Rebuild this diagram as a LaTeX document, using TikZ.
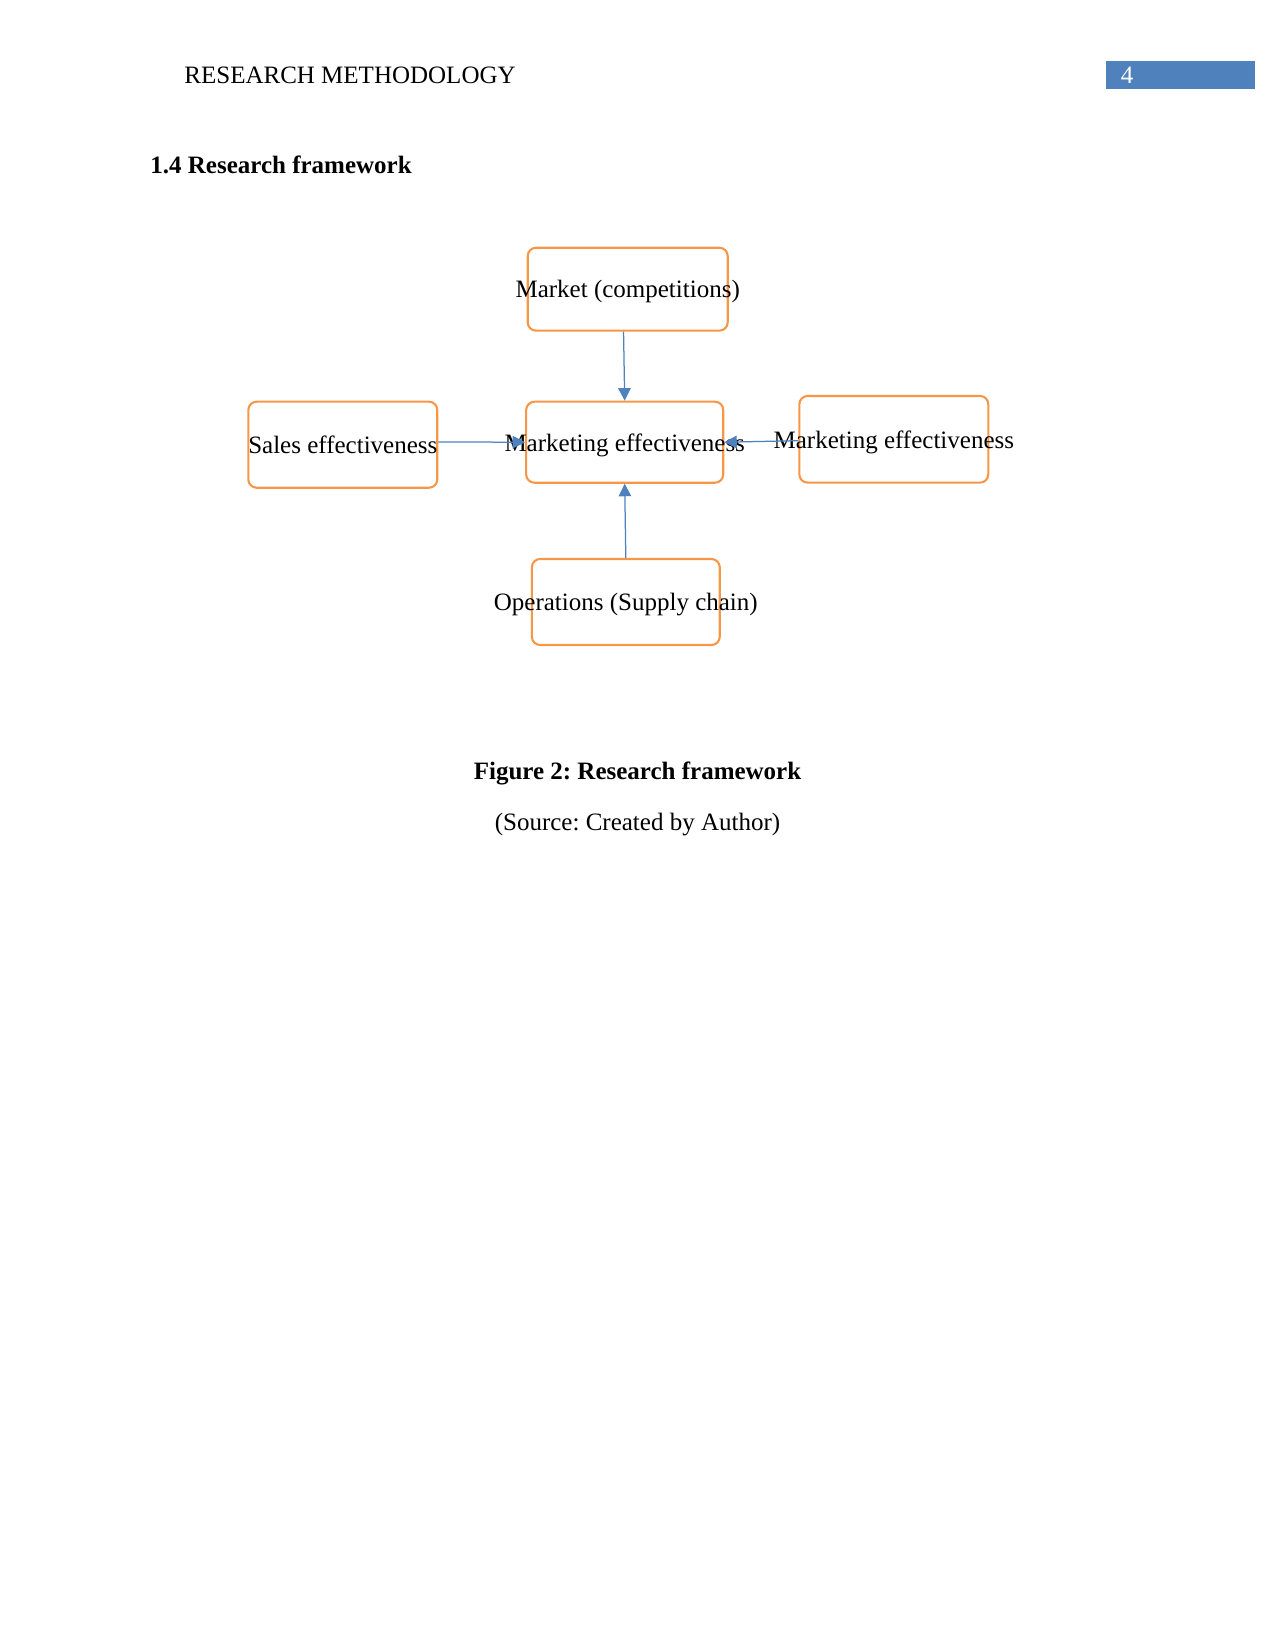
\documentclass[tikz,border=0pt]{standalone}
\usepackage{fontspec}
\setmainfont{Liberation Serif}
\usetikzlibrary{arrows.meta}
\definecolor{boxorange}{HTML}{F79646}
\definecolor{arrblue}{HTML}{4F81BD}
\frenchspacing
\begin{document}
\begin{tikzpicture}[x=0.48pt,y=-0.48pt,
  every node/.style={font=\fontsize{12}{14}\selectfont},
  fbox/.style={draw=boxorange,line width=1pt,rounded corners=4pt,inner sep=0pt,fill=none,text depth=0pt},
  conn/.style={draw=arrblue,line width=0.6pt,-{Triangle[length=6pt,width=6pt]}}]
\useasboundingbox (0,0) rectangle (1275,1650);
% header
\node[anchor=base west,inner sep=0pt] (hdr) at (184,84) {RESEARCH METHODOLOGY};
\node[fill=arrblue,minimum width=71.5pt,minimum height=13pt,inner sep=0pt] (pgbox) at (1180.5,75) {};
\node[text=white,inner sep=0pt] (pgnum) at (1127,75.5) {4};
\node[anchor=base west,inner sep=0pt,font=\fontsize{12}{14}\selectfont\bfseries] (sec) at (150,174) {1.4 Research framework};
% boxes
\node[fbox,minimum width=96pt,minimum height=39.8pt] (mkt) at (627.7,289.2) {\makebox[0pt][c]{Market (competitions)}};
\node[fbox,minimum width=90.7pt,minimum height=41.3pt] (sales) at (342.8,444.7) {\makebox[0pt][c]{Sales effectiveness}};
\node[fbox,minimum width=94.6pt,minimum height=38.9pt] (ctr) at (624.7,442.2) {\makebox[0pt][c]{Marketing effectiveness}};
\node[fbox,minimum width=90.7pt,minimum height=41.6pt] (rt) at (893.8,439.3) {\makebox[0pt][c]{Marketing effectiveness}};
\node[fbox,minimum width=90.2pt,minimum height=41.3pt] (bot) at (625.8,602) {\makebox[0pt][c]{Operations (Supply chain)}};
% connectors
\draw[conn] ([xshift=-2pt]mkt.south) -- (ctr.north);
\draw[conn] (sales.east |- 0,442) -- (ctr.west);
\draw[conn] (rt.west |- 0,440.7) -- (ctr.east);
\draw[conn] (bot.north) -- (ctr.south);
% caption
\node[anchor=base,inner sep=0pt,font=\fontsize{12}{14}\selectfont\bfseries] (cap) at (637.5,779) {Figure 2: Research framework};
\node[anchor=base,inner sep=0pt] (src) at (637.5,830) {(Source: Created by Author)};
\end{tikzpicture}
\end{document}
